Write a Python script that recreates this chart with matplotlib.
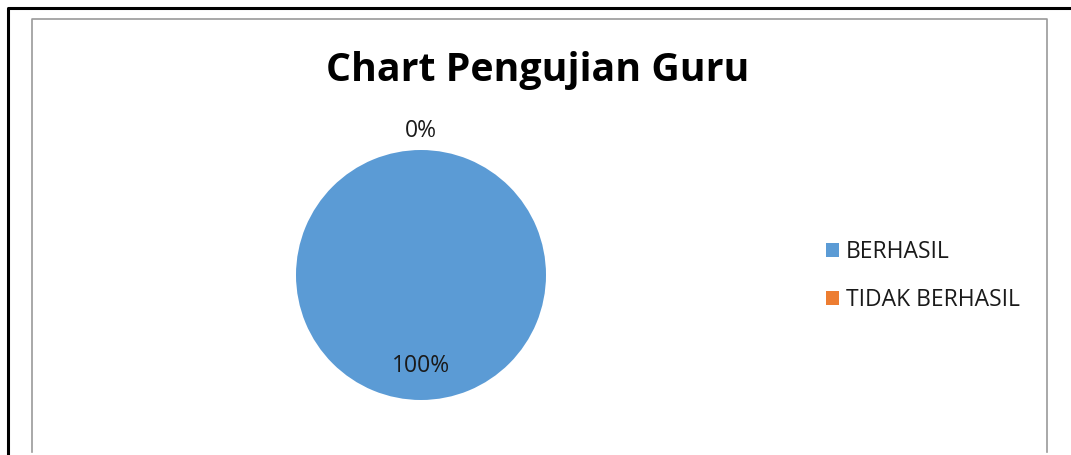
import matplotlib
matplotlib.use('Agg')
import matplotlib.pyplot as plt
from matplotlib.lines import Line2D
from matplotlib.patches import Patch
import numpy as np

plt.rcParams['font.family'] = ['Open Sans', 'DejaVu Sans']

# data
title = 'Chart Pengujian Guru'
categories = ['BERHASIL', 'TIDAK BERHASIL']
values = [100, 0]
colors = ['#5B9BD5', '#ED7D31']

W, H = 1071, 455
fig = plt.figure(figsize=(W / 100, H / 100), dpi=100)

def fx(px):
    return px / W

def fy(py):
    return 1 - py / H

# outer black frame (top + left) and inner grey chart area border
fig.add_artist(Line2D([fx(8), fx(8), fx(1071)], [fy(453), fy(8), fy(8)],
                      color='black', lw=2.2, transform=fig.transFigure))
fig.add_artist(Line2D([fx(32), fx(32), fx(1047), fx(1047)],
                      [fy(452), fy(19), fy(19), fy(452)],
                      color='#9a9a9a', lw=1.2, transform=fig.transFigure))

# pie axes: centre (421, 275), radius 125 px
cx, cy, r = 421, 275, 125
ax = fig.add_axes([fx(cx - r), fy(cy + r), 2 * r / W, 2 * r / H])
wedges, _ = ax.pie(values, colors=colors, startangle=90, counterclock=False,
                   radius=1, wedgeprops=dict(linewidth=0))
ax.set_xlim(-1, 1)
ax.set_ylim(-1, 1)
ax.set_aspect('auto')
ax.axis('off')

total = sum(values)
for w, v in zip(wedges, values):
    mid = np.deg2rad((w.theta1 + w.theta2) / 2)
    d = 1.15 if v == 0 else 0.73
    ax.text(d * np.cos(mid), d * np.sin(mid), f'{v / total:.0%}',
            ha='center', va='center', fontsize=16.5, color='#1a1a1a')

fig.text(fx(538), fy(70), title, ha='center', va='center',
         fontsize=28.3, fontweight='bold', color='black')

handles = [Patch(facecolor=c, edgecolor='none') for c in colors]
fig.legend(handles, categories, loc='center left',
           bbox_to_anchor=(fx(805), fy(276)), frameon=False,
           fontsize=16.5, handlelength=0.6, handleheight=0.6,
           handletextpad=0.3, labelspacing=1.05, labelcolor='#1a1a1a')

fig.savefig('out.png', dpi=100)
